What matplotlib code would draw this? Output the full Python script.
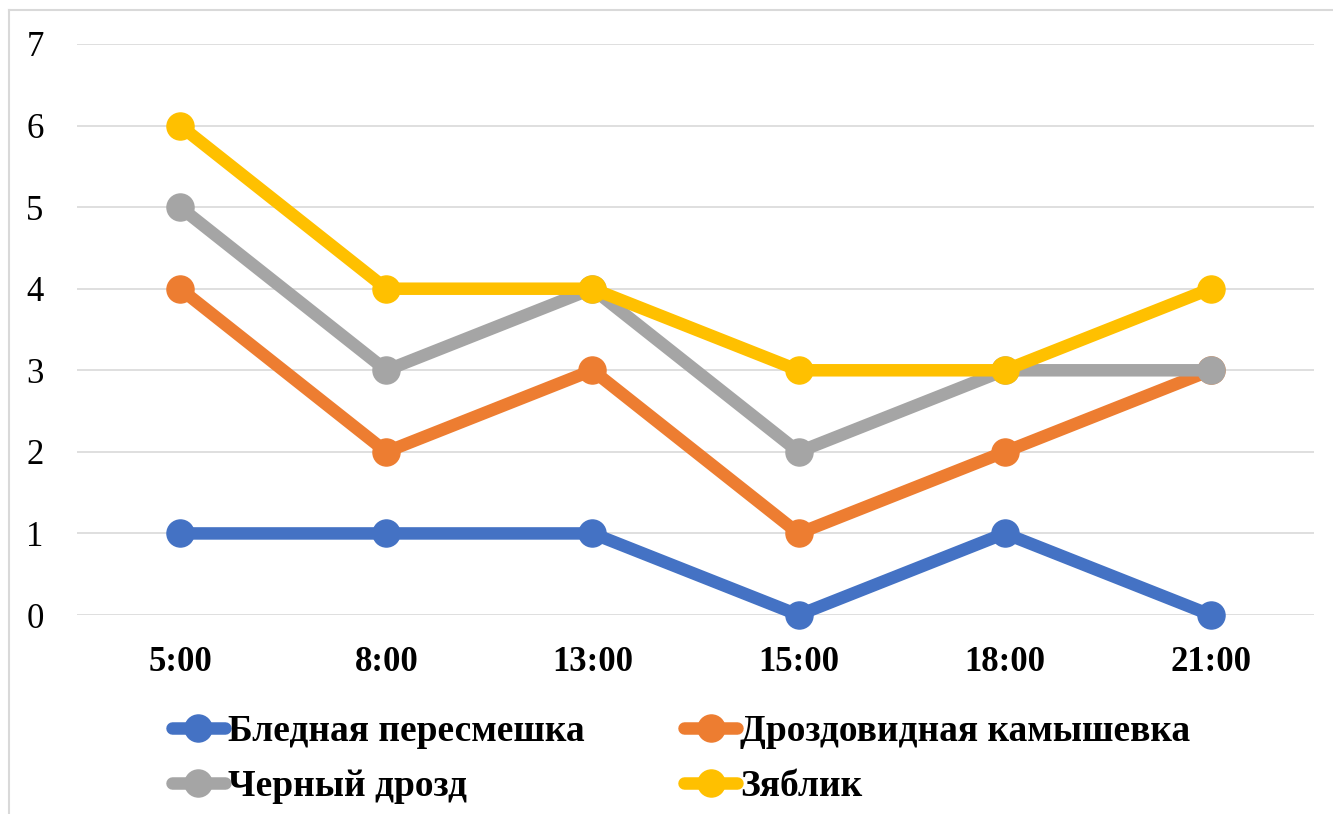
import matplotlib
matplotlib.use("Agg")
import matplotlib.pyplot as plt
from matplotlib.lines import Line2D

categories = ["5:00", "8:00", "13:00", "15:00", "18:00", "21:00"]
series_names = ["Бледная пересмешка", "Дроздовидная камышевка", "Черный дрозд", "Зяблик"]
pale_mockingbird = [1, 1, 1, 0, 1, 0]
great_reed_warbler = [4, 2, 3, 1, 2, 3]
blackbird = [5, 3, 4, 2, 3, 3]
chaffinch = [6, 4, 4, 3, 3, 4]
series_values = [pale_mockingbird, great_reed_warbler, blackbird, chaffinch]
colors = ["#4472C4", "#ED7D31", "#A5A5A5", "#FFC000"]
y_ticks = [0, 1, 2, 3, 4, 5, 6, 7]

W, H = 1333, 814
fig = plt.figure(figsize=(W / 100, H / 100), dpi=100)
fig.patch.set_facecolor("white")

ax = fig.add_axes([77 / W, 1 - 615 / H, (1314 - 77) / W, (615 - 44) / H])
x = list(range(len(categories)))
handles = []
for name, vals, c in zip(series_names, series_values, colors):
    ln, = ax.plot(x, vals, color=c, lw=9, marker="o", markersize=19.5,
                  solid_capstyle="round", solid_joinstyle="round", label=name,
                  zorder=3, clip_on=False)
    handles.append(ln)

ax.set_xlim(-0.5, len(categories) - 0.5)
ax.set_ylim(0, 7)
ax.set_yticks(y_ticks)
ax.set_xticks(x)
ax.set_xticklabels(categories, fontfamily="Liberation Serif", fontweight="bold", fontsize=25)
ax.set_yticklabels([str(t) for t in y_ticks], fontfamily="Liberation Serif", fontsize=25)
ax.tick_params(axis="both", length=0)
ax.tick_params(axis="y", pad=24)
ax.tick_params(axis="x", pad=22)
ax.grid(axis="y", color="#D9D9D9", lw=1.2, zorder=0)
ax.set_axisbelow(True)
for s in ax.spines.values():
    s.set_visible(False)

# legend filled row-wise: reorder for matplotlib's column-wise fill
order = [0, 2, 1, 3]
leg = fig.legend([handles[i] for i in order], [series_names[i] for i in order],
                 loc="upper left", bbox_to_anchor=(172 / W, 1 - 714 / H), ncol=2,
                 frameon=False,
                 prop={"family": "Liberation Serif", "weight": "bold", "size": 27},
                 handlelength=1.4, handletextpad=0.1, columnspacing=2.65,
                 labelspacing=0.53, borderpad=0, borderaxespad=0)

# chart border (top and left visible)
fig.add_artist(Line2D([9 / W, 9 / W], [0, 1 - 10 / H], color="#D9D9D9", lw=1.5))
fig.add_artist(Line2D([9 / W, 1], [1 - 10 / H, 1 - 10 / H], color="#D9D9D9", lw=1.5))

fig.savefig("out.png", dpi=100, facecolor="white")
